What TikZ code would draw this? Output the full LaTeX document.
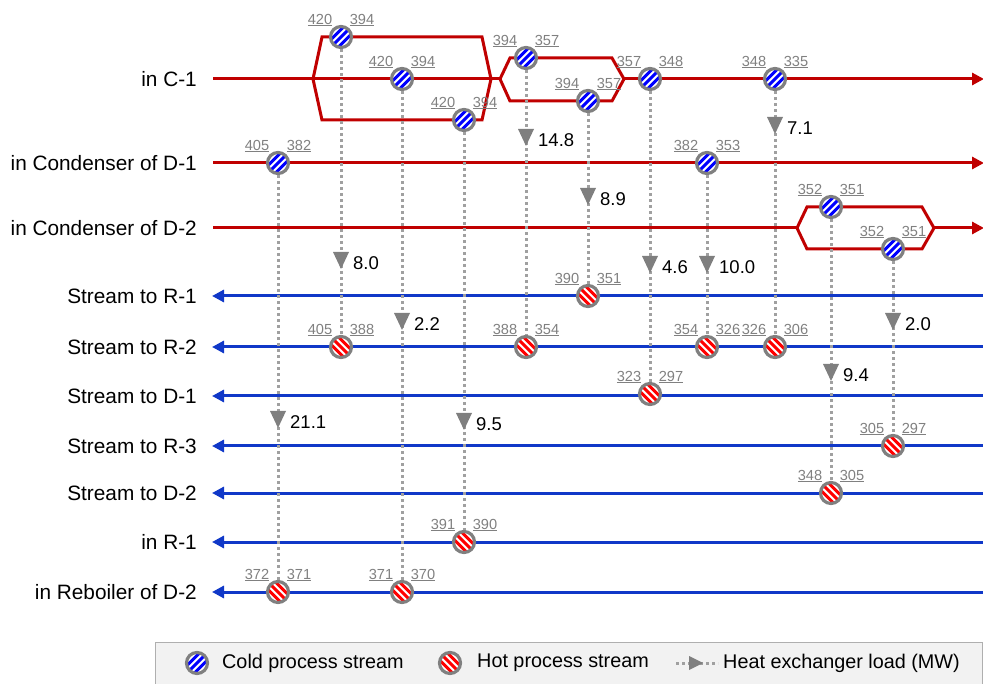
\documentclass[tikz,border=0pt]{standalone}
\usepackage{fontspec}
\setmainfont{Liberation Sans}
\usetikzlibrary{arrows.meta}
\definecolor{hotred}{RGB}{192,0,0}
\definecolor{coldblue}{RGB}{16,56,200}
\definecolor{ringgray}{RGB}{128,128,128}
\definecolor{dotgray}{RGB}{160,160,160}
\definecolor{trigray}{RGB}{127,127,127}
\definecolor{tempgray}{RGB}{128,128,128}
\definecolor{legfill}{RGB}{242,242,242}
\definecolor{legdraw}{RGB}{175,175,175}
\newcommand\temps[3]{%
  \node[templbl] (#1L) at ([xshift=-21pt,yshift=17pt]#1.center) {\underline{#2}};
  \node[templbl] (#1R) at ([xshift=21pt,yshift=17pt]#1.center) {\underline{#3}};}
\newcommand\loadline[5]{%
  \draw[hxload] (#2) -- (#3);
  \coordinate (#1) at #4;
  \fill[trigray] (#1) ++(-8,-9) -- ++(16,0) -- ++(-8,17) -- cycle;
  \node[loadlbl] (#1T) at ([xshift=12pt,yshift=-2pt]#1) {#5};}
\begin{document}
\begin{tikzpicture}[x=1pt,y=-1pt,
  hotline/.style={draw=hotred, line width=3pt},
  coldline/.style={draw=coldblue, line width=3pt},
  hotarrow/.style={hotline, -{Triangle[length=12pt,width=12pt]}},
  coldarrow/.style={coldline, {Triangle[length=12pt,width=12pt]}-},
  hexchg/.style={circle, draw=ringgray, line width=3.2pt, minimum size=21pt, inner sep=0pt, fill=white},
  coldhx/.style={hexchg, path picture={\foreach \k in {-4,...,4}{\draw[blue,line width=3pt] ([shift={(\k*3.8pt-15pt,-\k*3.8pt-15pt)}]path picture bounding box.center) -- ++(30pt,30pt);}}},
  hothx/.style={hexchg, path picture={\foreach \k in {-4,...,4}{\draw[red,line width=3pt] ([shift={(\k*3.8pt-15pt,\k*3.8pt+15pt)}]path picture bounding box.center) -- ++(30pt,-30pt);}}},
  hxload/.style={draw=dotgray, line width=3pt, dash pattern=on 3pt off 3pt},
  loadlbl/.style={anchor=west, inner sep=0pt, font=\fontsize{18.5}{20}\selectfont},
  templbl/.style={inner sep=0pt, text=tempgray, font=\fontsize{14.6}{17}\selectfont},
  rowlbl/.style={anchor=east, inner sep=0pt, font=\fontsize{20.8}{23}\selectfont},
  leglbl/.style={anchor=west, inner sep=0pt, font=\fontsize{19.8}{22}\selectfont}]
\useasboundingbox (0,0) rectangle (983,684);

% ---------- red rows ----------
\coordinate (c1s) at (213,79); \coordinate (c1m) at (500,79);
\coordinate (c1r) at (624,79); \coordinate (c1e) at (984,79);
\draw[hotline] (c1s) -- (c1m);
\draw[hotarrow] (c1r) -- (c1e);
\draw[hotline] (313,79) -- (322,37) -- (482,37) -- (491,79) -- (482,120) -- (322,120) -- cycle;
\draw[hotline] (500,79) -- (510,58) -- (612,58) -- (624,79) -- (612,101) -- (510,101) -- cycle;

\coordinate (d1s) at (213,163); \coordinate (d1e) at (984,163);
\draw[hotarrow] (d1s) -- (d1e);

\coordinate (d2s) at (213,228); \coordinate (d2m) at (797,228);
\coordinate (d2r) at (934,228); \coordinate (d2e) at (984,228);
\draw[hotline] (d2s) -- (d2m);
\draw[hotarrow] (d2r) -- (d2e);
\draw[hotline] (797,228) -- (807,207) -- (922,207) -- (934,228) -- (922,249) -- (807,249) -- cycle;

% ---------- blue rows ----------
\foreach \n/\y in {r1/296, r2/347, dd1/396, r3/446, dd2/493, ir1/542, rb/592}{
  \coordinate (\n s) at (212,\y); \coordinate (\n e) at (983,\y);
  \draw[coldarrow] (\n s) -- (\n e);
}

% ---------- row labels ----------
\node[rowlbl] (L1) at (197,79) {in C-1};
\node[rowlbl] (L2) at (197,163) {in Condenser of D-1};
\node[rowlbl] (L3) at (197,228) {in Condenser of D-2};
\node[rowlbl] (L4) at (197,296) {Stream to R-1};
\node[rowlbl] (L5) at (197,347) {Stream to R-2};
\node[rowlbl] (L6) at (197,396) {Stream to D-1};
\node[rowlbl] (L7) at (197,446) {Stream to R-3};
\node[rowlbl] (L8) at (197,493) {Stream to D-2};
\node[rowlbl] (L9) at (197,542) {in R-1};
\node[rowlbl] (L10) at (197,592) {in Reboiler of D-2};

% ---------- cold-side exchangers ----------
\node[coldhx] (a1) at (341,37) {};
\node[coldhx] (a2) at (402,79) {};
\node[coldhx] (a3) at (464,120) {};
\node[coldhx] (a4) at (526,58) {};
\node[coldhx] (a5) at (588,101) {};
\node[coldhx] (a6) at (650,79) {};
\node[coldhx] (a7) at (775,79) {};
\node[coldhx] (b1) at (278,163) {};
\node[coldhx] (b2) at (707,163) {};
\node[coldhx] (e1) at (831,207) {};
\node[coldhx] (e2) at (893,249) {};

% ---------- hot-side exchangers ----------
\node[hothx] (h1) at (588,296) {};
\node[hothx] (h2) at (341,347) {};
\node[hothx] (h3) at (526,347) {};
\node[hothx] (h4) at (707,347) {};
\node[hothx] (h5) at (775,347) {};
\node[hothx] (h6) at (650,394) {};
\node[hothx] (h7) at (893,446) {};
\node[hothx] (h8) at (831,493) {};
\node[hothx] (h9) at (464,542) {};
\node[hothx] (h10) at (278,592) {};
\node[hothx] (h11) at (402,592) {};

% ---------- heat exchanger loads ----------
\loadline{t1}{a1}{h2}{(341,261)}{8.0}
\loadline{t2}{a2}{h11}{(402,322)}{2.2}
\loadline{t3}{a3}{h9}{(464,422)}{9.5}
\loadline{t4}{a4}{h3}{(526,138)}{14.8}
\loadline{t5}{a5}{h1}{(588,197)}{8.9}
\loadline{t6}{a6}{h6}{(650,265)}{4.6}
\loadline{t7}{a7}{h5}{(775,126)}{7.1}
\loadline{t8}{b1}{h10}{(278,420)}{21.1}
\loadline{t9}{b2}{h4}{(707,265)}{10.0}
\loadline{t10}{e1}{h8}{(831,373)}{9.4}
\loadline{t11}{e2}{h7}{(893,322)}{2.0}

% ---------- temperatures ----------
\temps{a1}{420}{394}
\temps{a2}{420}{394}
\temps{a3}{420}{394}
\temps{a4}{394}{357}
\temps{a5}{394}{357}
\temps{a6}{357}{348}
\temps{a7}{348}{335}
\temps{b1}{405}{382}
\temps{b2}{382}{353}
\temps{e1}{352}{351}
\temps{e2}{352}{351}
\temps{h1}{390}{351}
\temps{h2}{405}{388}
\temps{h3}{388}{354}
\temps{h4}{354}{326}
\temps{h5}{326}{306}
\temps{h6}{323}{297}
\temps{h7}{305}{297}
\temps{h8}{348}{305}
\temps{h9}{391}{390}
\temps{h10}{372}{371}
\temps{h11}{371}{370}

% ---------- legend ----------
\fill[legfill] (155,642) rectangle (982,690);
\draw[legdraw, line width=1pt] (155,690) -- (155,642) -- (982,642) -- (982,690);
\node[coldhx] (lgc) at (197,663) {};
\node[leglbl] (lgct) at (222,663) {Cold process stream};
\node[hothx] (lgh) at (450,663) {};
\node[leglbl] (lght) at (477,663) {Hot process stream};
\coordinate (lga) at (676,663); \coordinate (lgb) at (718,663);
\draw[hxload] (lga) -- (lgb);
\coordinate (lgt) at (696,663);
\fill[trigray] (lgt) ++(-7,-7) -- ++(0,14) -- ++(14,-7) -- cycle;
\node[leglbl] (lgtt) at (723,663) {Heat exchanger load (MW)};
\end{tikzpicture}
\end{document}
